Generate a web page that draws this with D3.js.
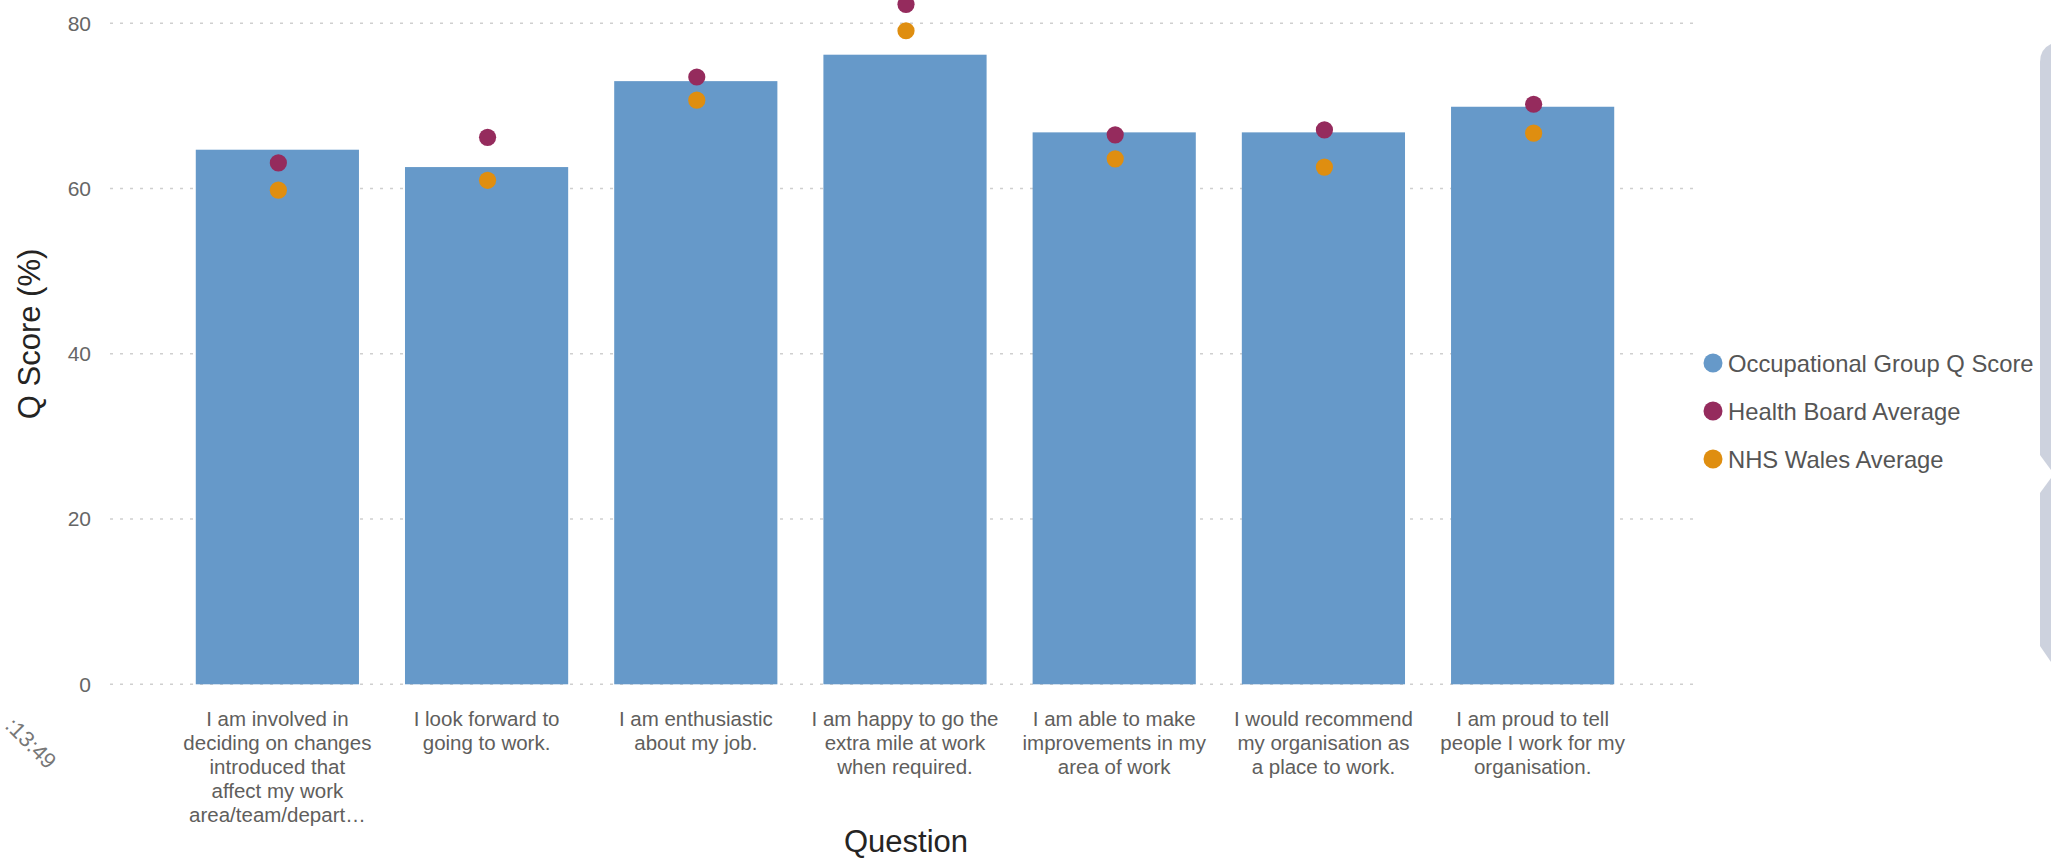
<!DOCTYPE html>
<html>
<head>
<meta charset="utf-8">
<script src="https://cdn.jsdelivr.net/npm/d3@7"></script>
<style>
  html, body { margin: 0; padding: 0; background: #fff; }
  svg { display: block; font-family: "Liberation Sans", Arial, sans-serif; }
</style>
</head>
<body>
<svg id="chart" width="2051" height="858"></svg>
<script>
// Survey questions (as shown on the axis, wrapped line by line)
const questionLabels = [
  ["I am involved in", "deciding on changes", "introduced that", "affect my work", "area/team/depart\u2026"],
  ["I look forward to", "going to work."],
  ["I am enthusiastic", "about my job."],
  ["I am happy to go the", "extra mile at work", "when required."],
  ["I am able to make", "improvements in my", "area of work"],
  ["I would recommend", "my organisation as", "a place to work."],
  ["I am proud to tell", "people I work for my", "organisation."]
];
const categories = questionLabels.map(lines => lines.join(" "));

// Q scores (%)
const groupScore     = [64.7, 62.6, 73.0, 76.2, 66.8, 66.8, 69.9];
const healthBoardAvg = [63.1, 66.2, 73.5, 82.3, 66.5, 67.1, 70.2];
const nhsWalesAvg    = [59.8, 61.0, 70.7, 79.1, 63.6, 62.6, 66.7];

const yTicks = [0, 20, 40, 60, 80];
const seriesNames = ["Occupational Group Q Score", "Health Board Average", "NHS Wales Average"];
const seriesColors = ["#6699c9", "#952b5d", "#df8e10"];

const svg = d3.select("#chart");

const plotLeft = 110, plotRight = 1694;

const x = d3.scaleBand()
  .domain(categories)
  .range([110, 1700])
  .paddingInner(0.22)
  .paddingOuter(0.41);

const y = d3.scaleLinear()
  .domain([0, 80])
  .range([684.3, 23.3]);

// Gridlines (dotted)
svg.append("g")
  .selectAll("line")
  .data(yTicks)
  .join("line")
  .attr("x1", plotLeft)
  .attr("x2", plotRight)
  .attr("y1", d => y(d))
  .attr("y2", d => y(d))
  .attr("stroke", "#cfcfcf")
  .attr("stroke-width", 1.6)
  .attr("stroke-dasharray", "3,7");

// Y axis tick labels
const yAxis = svg.append("g")
  .attr("transform", "translate(91,0)")
  .call(d3.axisLeft(y).tickValues(yTicks).tickSize(0).tickPadding(0));
yAxis.select(".domain").remove();
yAxis.selectAll("text")
  .attr("fill", "#666")
  .attr("font-size", 21)
  .attr("font-family", "Liberation Sans, Arial, sans-serif");

// Bars
svg.append("g")
  .selectAll("rect")
  .data(groupScore)
  .join("rect")
  .attr("x", (d, i) => x(categories[i]))
  .attr("width", x.bandwidth())
  .attr("y", d => y(d))
  .attr("height", d => y(0) - y(d))
  .attr("fill", seriesColors[0]);

// Average markers
[healthBoardAvg, nhsWalesAvg].forEach((vals, k) => {
  svg.append("g")
    .selectAll("circle")
    .data(vals)
    .join("circle")
    .attr("cx", (d, i) => x(categories[i]) + x.bandwidth() / 2 + 1)
    .attr("cy", d => y(d))
    .attr("r", 8.6)
    .attr("fill", seriesColors[k + 1]);
});

// X axis category labels (wrapped)
const xAxis = svg.append("g")
  .attr("transform", "translate(0,684.3)")
  .call(d3.axisBottom(x).tickSize(0).tickPadding(0).tickFormat(""));
xAxis.select(".domain").remove();
xAxis.selectAll(".tick").each(function(d, i) {
  const t = d3.select(this).append("text")
    .attr("fill", "#605e5c")
    .attr("font-size", 20.5)
    .attr("text-anchor", "middle")
    .attr("font-family", "Liberation Sans, Arial, sans-serif");
  questionLabels[i].forEach((line, j) => {
    t.append("tspan")
      .attr("x", 0)
      .attr("y", 42 + j * 24)
      .text(line);
  });
});

// Axis titles
svg.append("text")
  .attr("x", 906)
  .attr("y", 852)
  .attr("text-anchor", "middle")
  .attr("font-size", 31)
  .attr("fill", "#252423")
  .text("Question");

svg.append("text")
  .attr("transform", "translate(40,334) rotate(-90)")
  .attr("text-anchor", "middle")
  .attr("font-size", 31)
  .attr("fill", "#252423")
  .text("Q Score (%)");

// Legend
const legend = svg.append("g");
seriesNames.forEach((name, i) => {
  const cy = 363 + i * 48;
  legend.append("circle")
    .attr("cx", 1713)
    .attr("cy", cy)
    .attr("r", 9.5)
    .attr("fill", seriesColors[i]);
  legend.append("text")
    .attr("x", 1728)
    .attr("y", cy)
    .attr("dy", "0.36em")
    .attr("font-size", 23.8)
    .attr("fill", "#555")
    .text(name);
});

// Timestamp fragment at the lower left
svg.append("text")
  .attr("transform", "translate(4,727) rotate(45)")
  .attr("font-size", 22)
  .attr("fill", "#777")
  .text(":13:49");

// Side panel edge on the right
svg.append("path")
  .attr("d", "M2051,44 L2051,470 L2040,455 L2040,62 Q2040,49 2051,44 Z")
  .attr("fill", "#cdd2de");
svg.append("path")
  .attr("d", "M2051,478 L2051,662 L2040,646 L2040,493 Z")
  .attr("fill", "#cdd2de");
</script>
</body>
</html>
